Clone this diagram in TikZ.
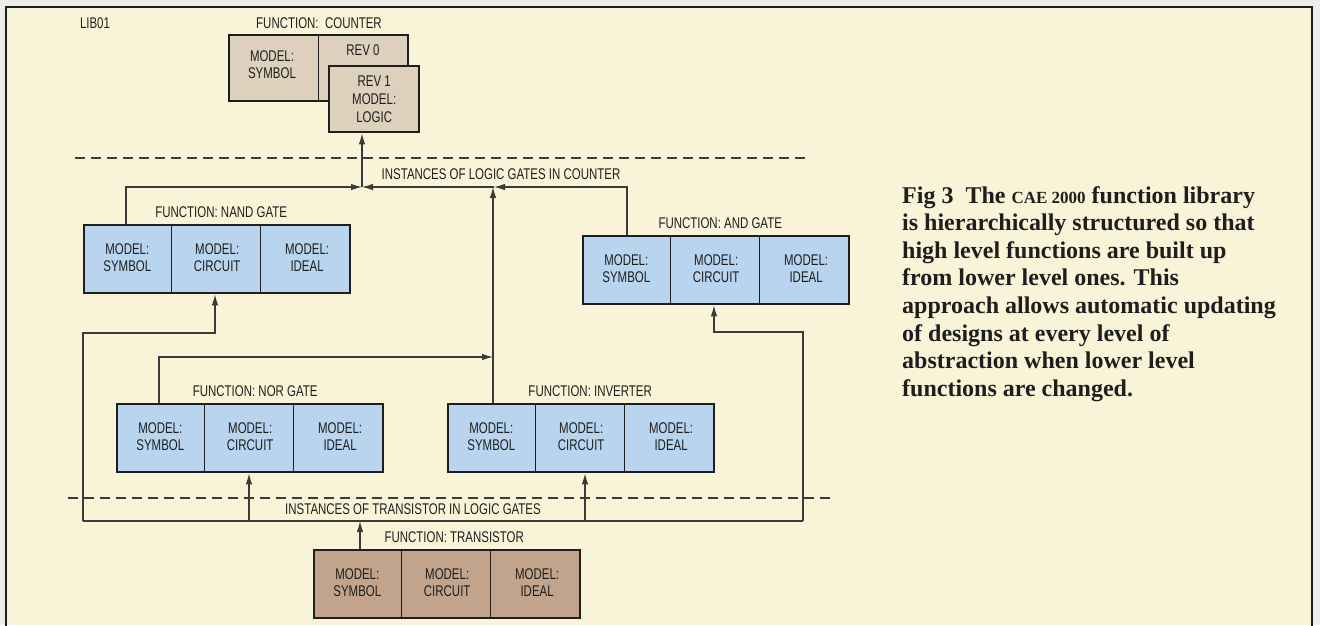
\documentclass[tikz,border=0pt]{standalone}
\usepackage{fontspec}
\setmainfont{Liberation Serif}
\newfontfamily\lblfont[FakeStretch=0.74]{Liberation Sans}
\usetikzlibrary{arrows.meta}
\definecolor{outside}{HTML}{EDEDEB}
\definecolor{paper}{HTML}{F9F4D8}
\definecolor{cellblue}{HTML}{B8D4EE}
\definecolor{celltan}{HTML}{DDD1BD}
\definecolor{cellbrown}{HTML}{C2A48C}
\definecolor{ink}{HTML}{1E1E1E}
\definecolor{linegray}{HTML}{3A3A3A}
\tikzset{
  lbl/.style={font=\lblfont\fontsize{15.5}{17}\selectfont, text=ink, inner sep=0pt, align=center},
  gbox/.style={draw=ink, line width=2.4pt, inner sep=0pt},
  divider/.style={draw=ink, line width=0.9pt},
  conn/.style={draw=linegray, line width=1.1pt},
  tip/.style={-{Latex[length=11pt,width=6.5pt]}},
  dashline/.style={draw=linegray, line width=1.1pt, dash pattern=on 10pt off 6pt},
}
\newcommand\mygate[6]{%
  % #1 name, #2 left x, #3 top y, #4 fill, #5 title, #6 title x shift
  \node[gbox, fill=#4, minimum width=266pt, minimum height=68pt, anchor=north west] (#1) at (#2,#3) {};
  \draw[divider] (#1.north west) ++(88.7,0) coordinate (#1-d1) -- ++(0,68);
  \draw[divider] (#1.north west) ++(177.3,0) coordinate (#1-d2) -- ++(0,68);
  \node[lbl] (#1-s) at ([xshift=44.3pt,yshift=-34pt]#1.north west) {MODEL:\\SYMBOL};
  \node[lbl] (#1-c) at ([yshift=-34pt]#1.north) {MODEL:\\CIRCUIT};
  \node[lbl] (#1-i) at ([xshift=-44.3pt,yshift=-34pt]#1.north east) {MODEL:\\IDEAL};
  \node[lbl] (#1-t) at ([xshift=#6,yshift=12pt]#1.north) {#5};
}
\begin{document}
\begin{tikzpicture}[x=1pt,y=-1pt]
\useasboundingbox (0,0) rectangle (1320,625);
\fill[outside] (0,0) rectangle (1320,625);
\fill[paper] (6,7) rectangle (1312,625);
\draw[ink, line width=2.6pt] (6,626) -- (6,7) -- (1312,7) -- (1312,626);

% top labels
\node[lbl] (lib) at (95,23) {LIB01};
\node[lbl] (ctitle) at (319,23) {FUNCTION:\ \ COUNTER};

% counter boxes
\node[gbox, fill=celltan, minimum width=179pt, minimum height=66pt, anchor=north west] (counter) at (228,34) {};
\draw[divider] (counter.north west) ++(90,0) coordinate (cdiv) -- ++(0,66);
\node[lbl] (csym) at (272,65) {MODEL:\\SYMBOL};
\node[lbl] (rev0) at (363,50) {REV 0};
\node[gbox, fill=celltan, minimum width=90pt, minimum height=66pt, anchor=north west] (rev1) at (328,65) {};
\node[lbl, font=\lblfont\fontsize{15.5}{18}\selectfont] (rev1t) at (rev1) {REV 1\\MODEL:\\LOGIC};

% gate boxes
\mygate{nand}{83}{224}{cellblue}{FUNCTION: NAND GATE}{4pt}
\mygate{andg}{582}{235}{cellblue}{FUNCTION: AND GATE}{4pt}
\mygate{nor}{116}{403}{cellblue}{FUNCTION: NOR GATE}{5pt}
\mygate{inv}{447}{403}{cellblue}{FUNCTION: INVERTER}{9pt}
\mygate{trans}{313}{549}{cellbrown}{FUNCTION: TRANSISTOR}{7pt}

% dashed level lines
\draw[dashline] (75,158) -- (811,158);
\draw[dashline] (68,498) -- (830,498);

% level labels
\node[lbl] (inst1) at (501,174) {INSTANCES OF LOGIC GATES IN COUNTER};
\node[lbl] (inst2) at (413,509) {INSTANCES OF TRANSISTOR IN LOGIC GATES};

% junctions
\coordinate (jc) at (362,187);
\coordinate (ij) at (494,187);
\coordinate (nj) at (493,357);
\coordinate (tl) at (83,521);
\coordinate (tr) at (803,521);
\coordinate (tj) at (360,521);

% upper connectors
\draw[conn, tip] (jc) -- (jc |- rev1.south);
\draw[conn, tip] ([xshift=43pt]nand.north west) |- (jc);
\draw[conn, tip] ([xshift=45pt]andg.north west) |- (ij);
\draw[conn, tip] (ij) -- (jc);
\draw[conn, tip] ([xshift=46pt]inv.north west) -- (ij -| nj);
\draw[conn, tip] ([xshift=43pt]nor.north west) |- (nj);

% lower connectors
\draw[conn] (tl) -- (tr);
\draw[conn, tip] (tj |- trans.north) -- (tj);
\draw[conn, tip] (tl) -- ++(0,-188) -| ([xshift=132pt]nand.south west);
\draw[conn, tip] (tr) -- ++(0,-189) -| ([xshift=132pt]andg.south west);
\coordinate (norin) at ([xshift=133pt]nor.south west);
\coordinate (invin) at ([xshift=138pt]inv.south west);
\draw[conn, tip] (norin |- tl) -- (norin);
\draw[conn, tip] (invin |- tl) -- (invin);

% caption
\node[anchor=north west, inner sep=0pt, align=left, text=ink,
      font=\bfseries\fontsize{24}{27.6}\selectfont] (caption) at (902,186)
 {Fig 3\hspace{12pt}The {\fontsize{17}{20}\selectfont CAE 2000} function library\\
  is hierarchically structured so that\\
  high level functions are built up\\
  from lower level ones. This\\
  approach allows automatic updating\\
  of designs at every level of\\
  abstraction when lower level\\
  functions are changed.};
\end{tikzpicture}
\end{document}
